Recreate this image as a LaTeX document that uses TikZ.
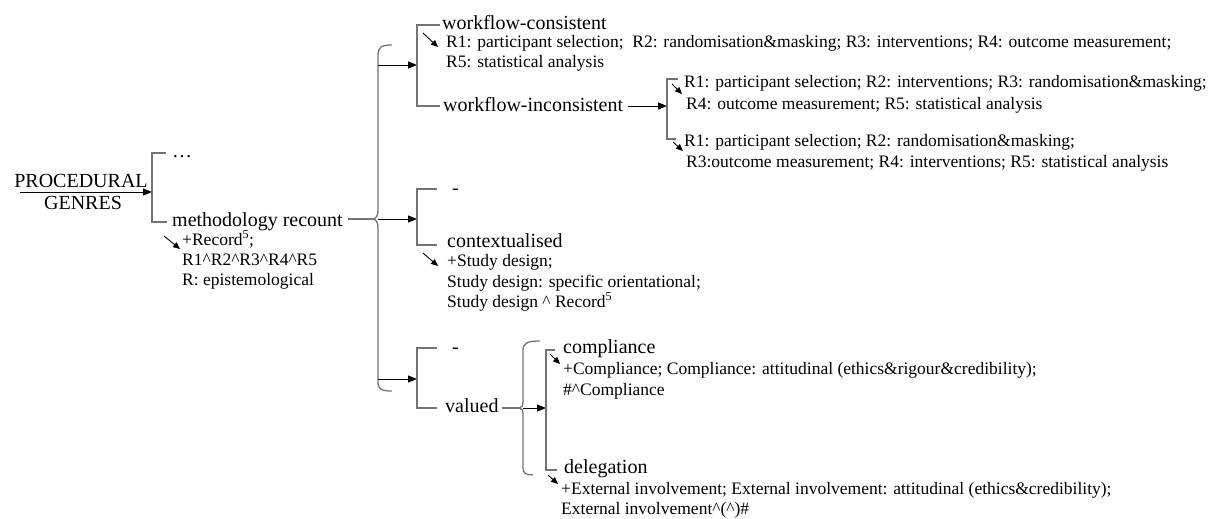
\documentclass[tikz,border=0pt]{standalone}
\usepackage{fontspec}
\setmainfont{Liberation Serif}
\usetikzlibrary{arrows.meta}
\begin{document}
\begin{tikzpicture}[x=1pt,y=-1pt,
  big/.style={anchor=base west,inner sep=0pt,font=\fontsize{20}{24}\selectfont},
  small/.style={anchor=base west,inner sep=0pt,font=\fontsize{17.5}{21}\selectfont},
  bracketline/.style={draw=black!55,line width=1.3pt},
  arr/.style={draw=black,line width=0.9pt,-{Triangle[length=9pt,width=7pt]}},
  diag/.style={draw=black,line width=0.9pt,-{Triangle[length=7pt,width=6pt]}},
]
\useasboundingbox (0,0) rectangle (1213,519);

% ---- root ----
\node[big,anchor=base] (proc) at (81,187) {PROCEDURAL};
\node[big,anchor=base] (gen) at (83,209) {GENRES};
\coordinate (rootstart) at (20,192);
\coordinate (lbr) at (152,192);
\draw[arr] (rootstart) -- (lbr);
\draw[bracketline] (166,153) -- (152,153) -- (152,222) -- (167,222);
\node[big] (dots) at (172,157) {…};
\node[big] (mr) at (172,226) {methodology recount};
\coordinate (mrarr0) at (164,236);
\coordinate (mrarr1) at (180,249);
\draw[diag] (mrarr0) -- (mrarr1);
\node[small] (mr1) at (182,245) {+Record\textsuperscript{5};};
\node[small] (mr2) at (182,265) {R1\textasciicircum R2\textasciicircum R3\textasciicircum R4\textasciicircum R5};
\node[small] (mr3) at (182,285) {R: epistemological};

% ---- main brace ----
\coordinate (tip) at (372,219);
\draw[bracketline] ([xshift=5pt]mr.east |- tip) -- (tip);
\draw[bracketline] (392,45) .. controls (381,45) and (378,47) .. (378,56) -- (378,210)
  .. controls (378,216) and (376,219) .. (tip)
  .. controls (376,219) and (378,222) .. (378,228) -- (378,382)
  .. controls (378,389) and (381,391) .. (392,391);
\coordinate (b1) at (378,65);  \coordinate (g1) at (417,65);
\coordinate (b2) at (378,219); \coordinate (g2) at (417,219);
\coordinate (b3) at (378,379); \coordinate (g3) at (417,379);
\draw[arr] (b1) -- (g1);
\draw[arr] (b2) -- (g2);
\draw[arr] (b3) -- (g3);

% ---- workflow ----
\draw[bracketline] (440,25) -- (417,25) -- (417,106) -- (440,106);
\node[big] (wc) at (442,30) {workflow-consistent};
\coordinate (wca0) at (423,33);
\coordinate (wca1) at (438,47);
\draw[diag] (wca0) -- (wca1);
\node[small] (wc1) at (446,48) {R1: participant selection;\ \ R2: randomisation\&masking; R3: interventions; R4: outcome measurement;};
\node[small] (wc2) at (446,68) {R5: statistical analysis};
\node[big] (wi) at (443,111) {workflow-inconsistent};
\coordinate (wib) at (667,106);
\draw[arr] ([xshift=5pt]wi.east |- wib) -- (wib);
\draw[bracketline] (678,79) -- (667,79) -- (667,139) -- (676,139);
\coordinate (wia0) at (672,84);
\coordinate (wia1) at (682,94);
\draw[diag] (wia0) -- (wia1);
\coordinate (wib0) at (673,142);
\coordinate (wib1) at (683,151);
\draw[diag] (wib0) -- (wib1);
\node[small] (wi1) at (684,88) {R1: participant selection; R2: interventions; R3: randomisation\&masking;};
\node[small] (wi2) at (686,109) {R4: outcome measurement; R5: statistical analysis};
\node[small] (wi3) at (684,146) {R1: participant selection; R2: randomisation\&masking;};
\node[small] (wi4) at (686,167) {R3:outcome measurement; R4: interventions; R5: statistical analysis};

% ---- contextualisation ----
\draw[bracketline] (437,189) -- (417,189) -- (417,245) -- (437,245);
\node[big] (c0) at (452,194) {-};
\node[big] (ctx) at (447,247) {contextualised};
\coordinate (ctxa0) at (423,253);
\coordinate (ctxa1) at (438,266);
\draw[diag] (ctxa0) -- (ctxa1);
\node[small] (ctx1) at (447,266) {+Study design;};
\node[small] (ctx2) at (447,287) {Study design: specific orientational;};
\node[small] (ctx3) at (447,307) {Study design \textasciicircum{} Record\textsuperscript{5}};

% ---- valuation ----
\draw[bracketline] (437,348) -- (417,348) -- (417,408) -- (437,408);
\node[big] (v0) at (452,353) {-};
\node[big] (val) at (445,412) {valued};
\coordinate (tip2) at (519,408);
\draw[bracketline] ([xshift=3pt]val.east |- tip2) -- (tip2);
\draw[bracketline] (540,341) .. controls (528,341) and (523,343) .. (523,350) -- (523,401)
  .. controls (523,406) and (522,408) .. (tip2)
  .. controls (522,408) and (523,410) .. (523,415) -- (523,468)
  .. controls (523,473) and (526,475) .. (533,475);
\coordinate (vb) at (523,408);
\coordinate (vg) at (546,408);
\draw[arr] (vb) -- (vg);
\draw[bracketline] (555,350) -- (546,350) -- (546,470) -- (557,470);
\node[big] (comp) at (563,353) {compliance};
\coordinate (compa0) at (550,354);
\coordinate (compa1) at (560,364);
\draw[diag] (compa0) -- (compa1);
\node[small] (comp1) at (563,374) {+Compliance; Compliance: attitudinal (ethics\&rigour\&credibility);};
\node[small] (comp2) at (563,395) {\#\textasciicircum Compliance};
\node[big] (del) at (564,473) {delegation};
\coordinate (dela0) at (548,475);
\coordinate (dela1) at (558,484);
\draw[diag] (dela0) -- (dela1);
\node[small] (del1) at (561,494) {+External involvement; External involvement: attitudinal (ethics\&credibility);};
\node[small] (del2) at (561,514) {External involvement\textasciicircum(\textasciicircum)\#};
\end{tikzpicture}
\end{document}
